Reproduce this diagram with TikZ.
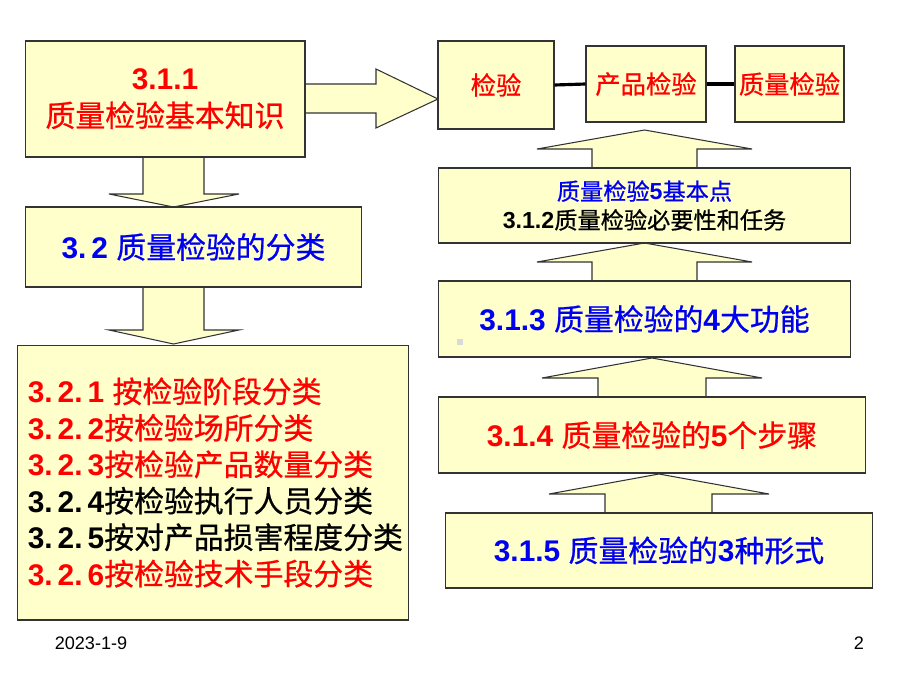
\documentclass[tikz,border=0pt]{standalone}
\usepackage{fontspec}
\setmainfont{Liberation Sans}
\newfontfamily\hei{Noto Sans CJK SC}[FakeBold=0.7]
\newcommand\zh[1]{{\hei\mdseries #1}}
\usetikzlibrary{positioning}
\definecolor{boxfill}{RGB}{255,255,204}
\definecolor{zred}{RGB}{255,0,0}
\definecolor{zblue}{RGB}{0,0,240}

\begin{document}
\begin{tikzpicture}[x=0.02cm,y=-0.02cm,
  box/.style={draw=black!80,fill=boxfill,line width=0.6pt,inner sep=0pt,align=center,
    font=\bfseries\fontsize{17}{21}\selectfont},
  blk/.style={draw=black!80,fill=boxfill,line width=0.6pt},
  link/.style={line width=1.8pt,black}]

\fill[white] (0,0) rectangle (920,690);

% block arrows
\draw[blk] (305,84) -- (376,84) -- (376,69) -- (438,99) -- (376,128) -- (376,113) -- (305,113);
\draw[blk] (143,157) -- (143,194) -- (109,194) -- (173.5,207) -- (239,194) -- (204,194) -- (204,157);
\draw[blk] (143,287) -- (143,330) -- (109,330) -- (173.5,344) -- (239,330) -- (204,330) -- (204,287);

\draw[blk] (592,168) -- (592,149) -- (537,149) -- (644.5,130) -- (752,149) -- (697,149) -- (697,168);
\draw[blk] (592,281) -- (592,262) -- (537,262) -- (644.5,243) -- (752,262) -- (697,262) -- (697,281);
\draw[blk] (598,397) -- (598,378) -- (542,378) -- (652,358) -- (762,378) -- (706,378) -- (706,397);
\draw[blk] (605,513) -- (605,494) -- (549,494) -- (659,474) -- (769,494) -- (712,494) -- (712,513);

% left column
\node[box,text=zred,minimum width=5.6cm,minimum height=2.32cm] (zs) at (165,99)
  {3.1.1\\\zh{质量检验基本知识}};
\node[box,text=zblue,minimum width=6.74cm,minimum height=1.6cm] (fl) at (193.5,247)
  {3.\,2 \zh{质量检验的分类}};
\node[box,minimum width=7.84cm,minimum height=5.5cm] (lb) at (213,482.5) {};
\node[right=0.22cm of lb.west,inner sep=0pt,align=left,
  font=\bfseries\fontsize{17}{20.75}\selectfont] (lbt)
  {\textcolor{zred}{3.\,2.\,1 \zh{按检验阶段分类}}\\
   \textcolor{zred}{3.\,2.\,2\zh{按检验场所分类}}\\
   \textcolor{zred}{3.\,2.\,3\zh{按检验产品数量分类}}\\
   3.\,2.\,4\zh{按检验执行人员分类}\\
   3.\,2.\,5\zh{按对产品损害程度分类}\\
   \textcolor{zred}{3.\,2.\,6\zh{按检验技术手段分类}}};

% right column
\node[box,text=zred,minimum width=2.32cm,minimum height=1.76cm,
  font=\fontsize{14.4}{17}\selectfont] (jy) at (496,85) {\zh{检验}};
\node[box,text=zred,minimum width=2.4cm,minimum height=1.52cm,
  font=\fontsize{14.4}{17}\selectfont] (cpjy) at (646,84) {\zh{产品检验}};
\node[box,text=zred,minimum width=2.18cm,minimum height=1.52cm,
  font=\fontsize{14.4}{17}\selectfont] (zljy) at (789.5,84) {\zh{质量检验}};

\node[box,text=zblue,minimum width=8.26cm,minimum height=1.5cm,
  font=\bfseries\fontsize{13.2}{16.4}\selectfont] (rw) at (644.5,205.5)
  {\zh{质量检验}5\zh{基本点}\\\textcolor{black}{3.1.2\zh{质量检验必要性和任务}}};
\node[box,text=zblue,minimum width=8.26cm,minimum height=1.52cm] (gn) at (644.5,319)
  {3.1.3 \zh{质量检验的}4\zh{大功能}};
\node[box,text=zred,minimum width=8.56cm,minimum height=1.52cm] (bz) at (652,435)
  {3.1.4 \zh{质量检验的}5\zh{个步骤}};
\node[box,text=zblue,minimum width=8.56cm,minimum height=1.5cm] (xs) at (659,550.5)
  {3.1.5 \zh{质量检验的}3\zh{种形式}};

\draw[link] (jy.east) -- (cpjy.west);
\draw[link] (cpjy.east) -- (zljy.west);

\fill[black!15] (457,339) rectangle (463,345);

% footer
\node[font=\fontsize{10.3}{12}\selectfont] (date) at (91,643) {2023-1-9};
\node[font=\fontsize{10.3}{12}\selectfont] (pg) at (859,643) {2};

\end{tikzpicture}
\end{document}
